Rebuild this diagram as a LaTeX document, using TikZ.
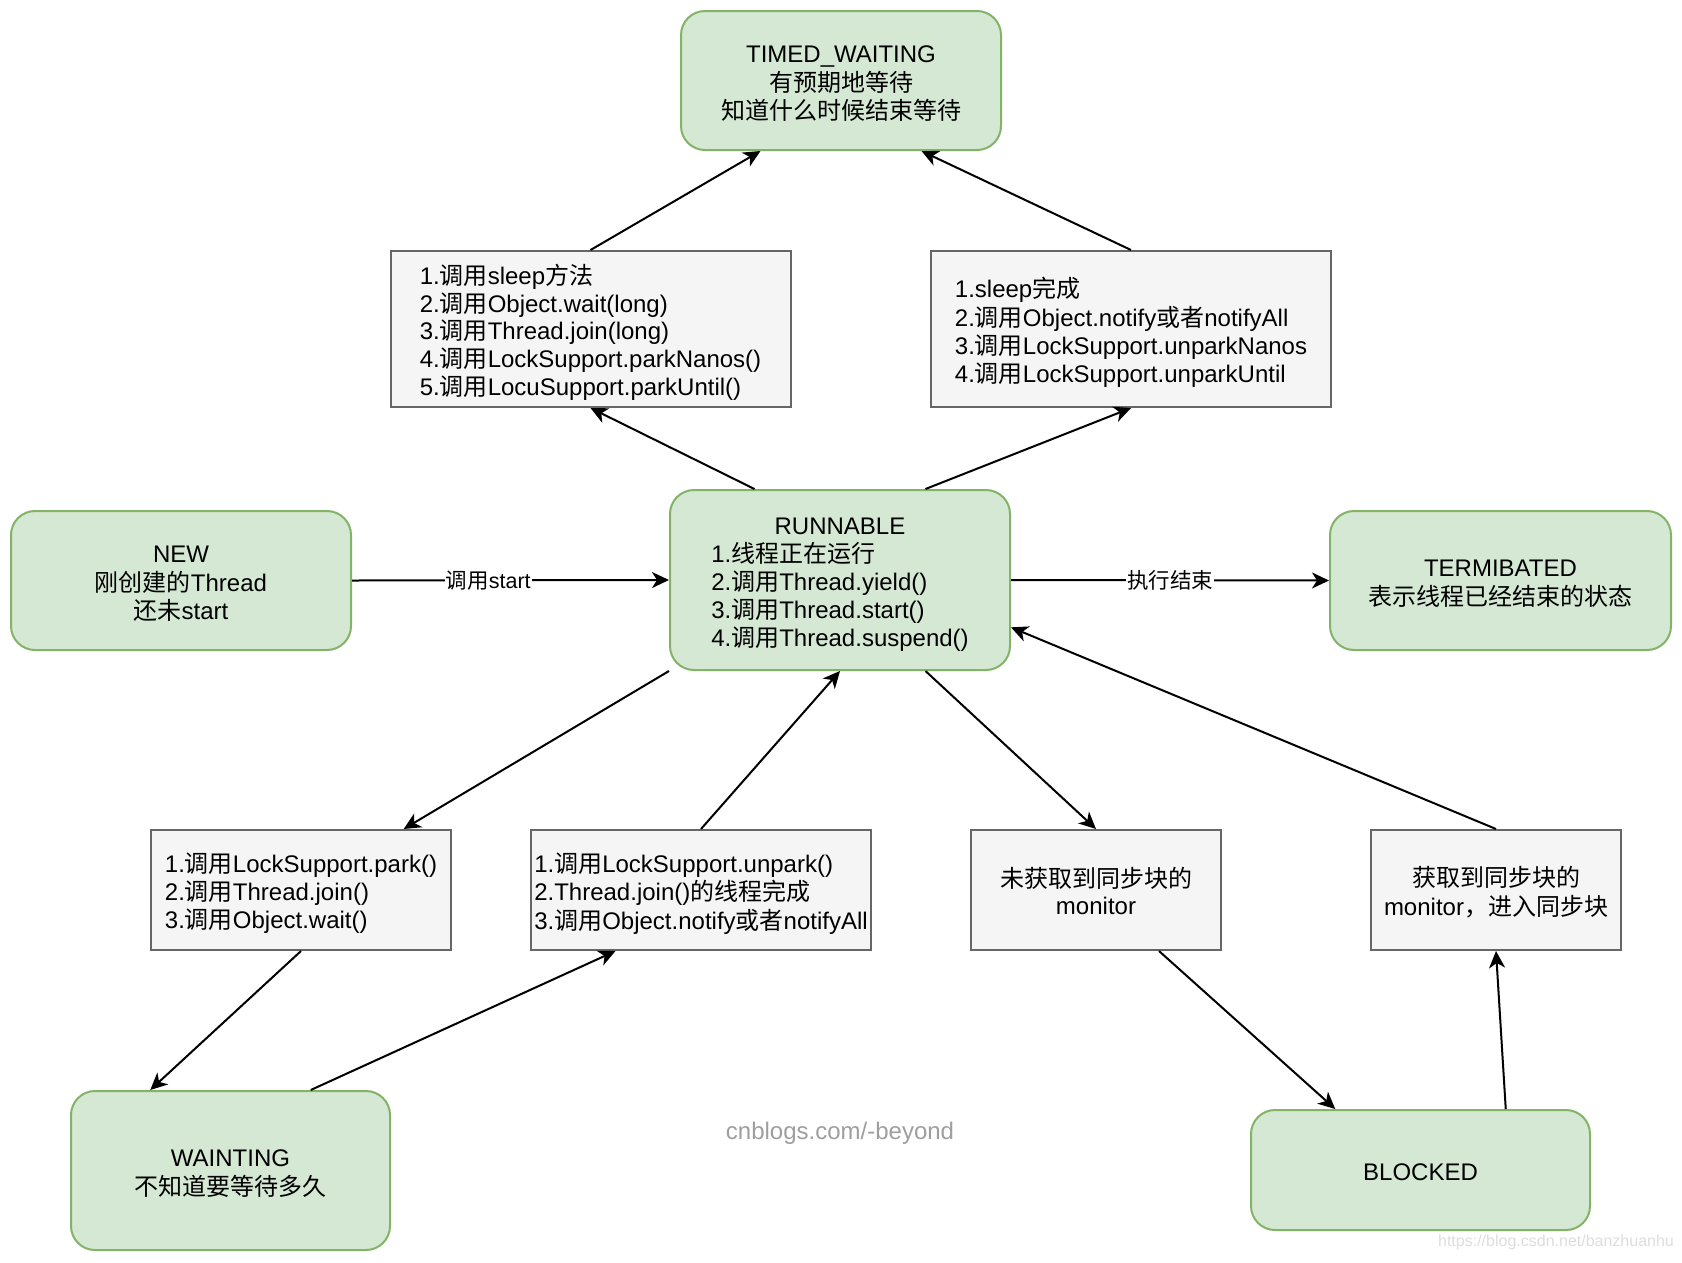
\documentclass[tikz,border=0pt]{standalone}
\usepackage{fontspec}
\setmainfont{Liberation Sans}
\newfontfamily\zhfont{Noto Sans CJK SC}
\newcommand\zh[1]{{\zhfont #1}}
\newcommand\txc[1]{\raisebox{-5pt}[\height][\depth]{\begin{tabular}{@{}c@{}}#1\end{tabular}}}
\newcommand\txl[1]{\raisebox{-5pt}[\height][\depth]{\begin{tabular}{@{}l@{}}#1\end{tabular}}}
\usetikzlibrary{arrows.meta,calc}
\definecolor{gfill}{HTML}{D5E8D4}
\definecolor{gline}{HTML}{82B366}
\definecolor{bfill}{HTML}{F5F5F5}
\definecolor{bline}{HTML}{666666}
\definecolor{wmone}{HTML}{9E9E9E}
\definecolor{wmtwo}{HTML}{DDDDDD}
\begin{document}
\begin{tikzpicture}[x=1pt,y=-1pt,
  state/.style={draw=gline, fill=gfill, line width=2pt, rounded corners=24pt, inner sep=0pt, font=\fontsize{24}{27.8}\selectfont},
  cond/.style={draw=bline, fill=bfill, line width=2pt, inner sep=0pt, font=\fontsize{24}{27.8}\selectfont},
  conn/.style={line width=2pt, -{Stealth[length=17pt,width=16pt,inset=5pt]}},
  lbl/.style={fill=white, inner sep=1pt, font=\fontsize{21.5}{26}\selectfont}]
\useasboundingbox (0,0) rectangle (1682,1262);

% states
\node[state, minimum width=320pt, minimum height=139pt] (tw) at (841,80.5)
  {\txc{TIMED\_WAITING\\\zh{有预期地等待}\\\zh{知道什么时候结束等待}}};
\node[state, minimum width=340pt, minimum height=139pt] (new) at (181,580.5)
  {\txc{NEW\\\zh{刚创建的}Thread\\\zh{还未}start}};
\node[state, minimum width=340pt, minimum height=180pt] (run) at (840,580)
  {\txl{\multicolumn{1}{@{}c@{}}{RUNNABLE}\\
   1.\zh{线程正在运行}\\
   2.\zh{调用}Thread.yield()\\
   3.\zh{调用}Thread.start()\\
   4.\zh{调用}Thread.suspend()}};
\node[state, minimum width=341pt, minimum height=139pt] (term) at (1500.5,580.5)
  {\txc{TERMIBATED\\\zh{表示线程已经结束的状态}}};
\node[state, minimum width=319pt, minimum height=159pt] (wait) at (230.5,1170.5)
  {\txc{WAINTING\\\zh{不知道要等待多久}}};
\node[state, minimum width=339pt, minimum height=120pt] (blk) at (1420.5,1170)
  {\txc{BLOCKED}};

% condition boxes
\node[cond, minimum width=400pt, minimum height=156pt] (b1) at (590.5,329)
  {\txl{1.\zh{调用}sleep\zh{方法}\\
   2.\zh{调用}Object.wait(long)\\
   3.\zh{调用}Thread.join(long)\\
   4.\zh{调用}LockSupport.parkNanos()\\
   5.\zh{调用}LocuSupport.parkUntil()}};
\node[cond, minimum width=400pt, minimum height=156pt] (b2) at (1131,329)
  {\txl{1.sleep\zh{完成}\\
   2.\zh{调用}Object.notify\zh{或者}notifyAll\\
   3.\zh{调用}LockSupport.unparkNanos\\
   4.\zh{调用}LockSupport.unparkUntil}};
\node[cond, minimum width=300pt, minimum height=120pt] (b3) at (301,890)
  {\txl{1.\zh{调用}LockSupport.park()\\
   2.\zh{调用}Thread.join()\\
   3.\zh{调用}Object.wait()}};
\node[cond, minimum width=340pt, minimum height=120pt] (b4) at (701,890)
  {\txl{1.\zh{调用}LockSupport.unpark()\\
   2.Thread.join()\zh{的线程完成}\\
   3.\zh{调用}Object.notify\zh{或者}notifyAll}};
\node[cond, minimum width=250pt, minimum height=120pt] (b5) at (1096,890)
  {\txc{\zh{未获取到同步块的}\\monitor}};
\node[cond, minimum width=250pt, minimum height=120pt] (b6) at (1496,890)
  {\txc{\zh{获取到同步块的}\\monitor\zh{，进入同步块}}};

% connectors
\draw[conn] (b1.north) -- ($(tw.south west)!0.25!(tw.south east)$);
\draw[conn] (b2.north) -- ($(tw.south west)!0.75!(tw.south east)$);
\draw[conn] ($(run.north west)!0.25!(run.north east)$) -- (b1.south);
\draw[conn] ($(run.north west)!0.75!(run.north east)$) -- (b2.south);
\draw[conn] (new.east) -- node[lbl, pos=0.43] {\zh{调用}start} (run.west);
\draw[conn] (run.east) -- node[lbl, pos=0.5] {\zh{执行结束}} (term.west);
\draw[conn] (run.south west) -- ($(b3.north west)!0.84!(b3.north east)$);
\draw[conn] (b4.north) -- (run.south);
\draw[conn] ($(run.south west)!0.75!(run.south east)$) -- (b5.north);
\draw[conn] (b6.north) -- ($(run.north east)!0.76!(run.south east)$);
\draw[conn] (b3.south) -- ($(wait.north west)!0.25!(wait.north east)$);
\draw[conn] ($(wait.north west)!0.75!(wait.north east)$) -- ($(b4.south west)!0.25!(b4.south east)$);
\draw[conn] ($(b5.south west)!0.75!(b5.south east)$) -- ($(blk.north west)!0.25!(blk.north east)$);
\draw[conn] ($(blk.north west)!0.75!(blk.north east)$) -- (b6.south);

% watermarks
\node[font=\fontsize{24}{28}\selectfont, text=wmone] (wm1) at (840,1133) {cnblogs.com/-beyond};
\node[font=\fontsize{16}{20}\selectfont, text=wmtwo] (wm2) at (1556,1242) {https://blog.csdn.net/banzhuanhu};
\end{tikzpicture}
\end{document}
